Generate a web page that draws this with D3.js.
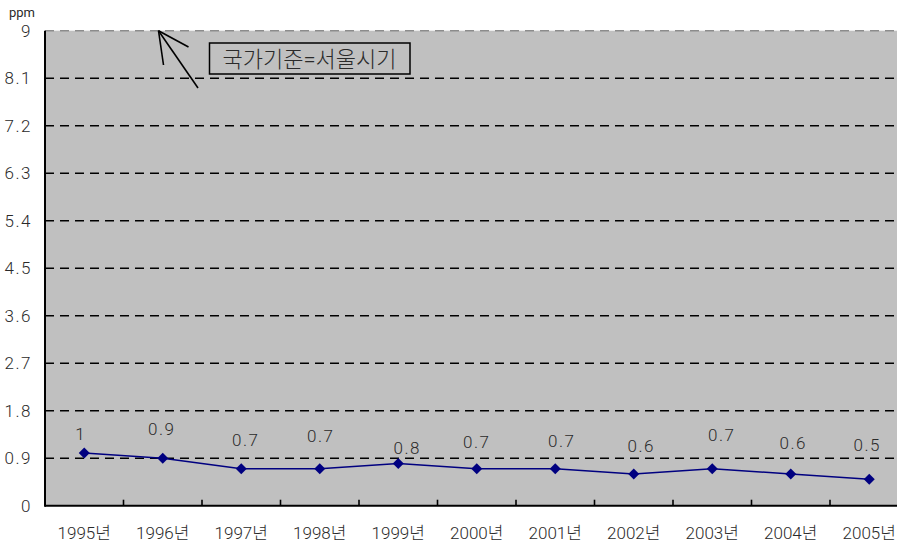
<!DOCTYPE html>
<html>
<head>
<meta charset="utf-8">
<script src="https://cdn.jsdelivr.net/npm/d3@7/dist/d3.min.js"></script>
<style>
  html, body { margin: 0; padding: 0; background: #fff; }
  svg { display: block; }
  text { font-family: Roboto, "Noto Sans CJK KR", sans-serif; fill: #2a2a2a; }
</style>
</head>
<body>
<svg id="chart" width="897" height="542"></svg>
<script>
// Annual concentration (ppm), 1995–2005
const years = ["1995", "1996", "1997", "1998", "1999", "2000", "2001", "2002", "2003", "2004", "2005"];
const values = [1, 0.9, 0.7, 0.7, 0.8, 0.7, 0.7, 0.6, 0.7, 0.6, 0.5];
const yTicks = [0, 0.9, 1.8, 2.7, 3.6, 4.5, 5.4, 6.3, 7.2, 8.1, 9];
const yearSuffix = "년";
const unitLabel = "ppm";
const noteText = "국가기준=서울시기";

// Hand-placed nudges for value labels (px, relative to each marker)
const labelNudge = [[-3.5, -19], [-1, -29], [4.5, -29], [1, -32.5], [9, -15.5], [0, -27],
                    [6.5, -27.5], [7.5, -27.5], [9.5, -34], [2.5, -31], [-2, -34]];

const svg = d3.select("#chart");
const plotLeft = 45, plotTop = 30.7, plotBottom = 505.7, band = 78.5;

const x = d3.scaleBand().domain(years).range([plotLeft, plotLeft + band * years.length]);
const y = d3.scaleLinear().domain([0, 9]).range([plotBottom, plotTop]);

// plot background
svg.append("rect")
  .attr("x", plotLeft).attr("y", plotTop)
  .attr("width", x.range()[1] - plotLeft).attr("height", plotBottom - plotTop)
  .attr("fill", "#c0c0c0");

// gridlines
svg.append("g").selectAll("line")
  .data(yTicks.filter(d => d > 0))
  .join("line")
  .attr("x1", plotLeft).attr("x2", x.range()[1])
  .attr("y1", d => y(d)).attr("y2", d => y(d))
  .attr("stroke", d => d === 9 ? "#8c8c8c" : "#000")
  .attr("stroke-width", 1.6)
  .attr("stroke-dasharray", "9,6");

// y axis
const yAxis = d3.axisLeft(y).tickValues(yTicks).tickSize(0).tickPadding(13)
  .tickFormat(d => d3.format("~g")(d));
const gy = svg.append("g").attr("transform", `translate(${plotLeft},0)`).call(yAxis);
gy.select(".domain").remove();
gy.selectAll("text")
  .attr("font-size", 17).attr("letter-spacing", 1.5).attr("font-weight", 300)
  .attr("font-family", "Roboto, sans-serif").attr("fill", "#2a2a2a");

// x axis with inward ticks at category boundaries
const gx = svg.append("g").attr("transform", `translate(0,${plotBottom})`);
gx.selectAll("line.tk")
  .data(years.slice(1))
  .join("line").attr("class", "tk")
  .attr("x1", d => x(d)).attr("x2", d => x(d))
  .attr("y1", 0).attr("y2", -6)
  .attr("stroke", "#000").attr("stroke-width", 1.6);
gx.selectAll("text")
  .data(years)
  .join("text")
  .attr("x", d => x(d) + x.bandwidth() / 2)
  .attr("y", 33)
  .attr("text-anchor", "middle")
  .attr("font-size", 17)
  .attr("font-weight", 300)
  .text(d => d + yearSuffix);

// axis lines
svg.append("line").attr("x1", plotLeft).attr("x2", plotLeft).attr("y1", plotTop).attr("y2", plotBottom + 1)
  .attr("stroke", "#000").attr("stroke-width", 2);
svg.append("line").attr("x1", plotLeft).attr("x2", x.range()[1]).attr("y1", plotBottom).attr("y2", plotBottom)
  .attr("stroke", "#000").attr("stroke-width", 2);

// unit label
svg.append("text").attr("x", 22).attr("y", 16.5).attr("text-anchor", "middle")
  .attr("font-size", 13).attr("font-family", "\"DejaVu Sans Mono\", monospace").text(unitLabel);

// series line
const cx = (d, i) => x(years[i]) + x.bandwidth() / 2;
svg.append("path")
  .datum(values)
  .attr("fill", "none")
  .attr("stroke", "#000080")
  .attr("stroke-width", 1.5)
  .attr("d", d3.line().x(cx).y(d => y(d)));

// diamond markers
svg.append("g").selectAll("path")
  .data(values)
  .join("path")
  .attr("transform", (d, i) => `translate(${cx(d, i)},${y(d)})`)
  .attr("d", "M0,-5.5L5.5,0L0,5.5L-5.5,0Z")
  .attr("fill", "#000080");

// value labels
svg.append("g").selectAll("text")
  .data(values)
  .join("text")
  .attr("x", (d, i) => cx(d, i) + labelNudge[i][0])
  .attr("y", (d, i) => y(d) + labelNudge[i][1])
  .attr("dy", "0.35em")
  .attr("text-anchor", "middle")
  .attr("font-size", 17)
  .attr("font-weight", 300)
  .attr("letter-spacing", 1.5)
  .text(d => d3.format("~g")(d));

// annotation arrow pointing at the 9 ppm line
const arrow = svg.append("g").attr("stroke", "#000").attr("stroke-width", 1.6).attr("fill", "none");
arrow.append("line").attr("x1", 198).attr("y1", 88).attr("x2", 158.5).attr("y2", y(9));
arrow.append("line").attr("x1", 158.5).attr("y1", y(9)).attr("x2", 163.5).attr("y2", 65);
arrow.append("line").attr("x1", 158.5).attr("y1", y(9)).attr("x2", 188.5).attr("y2", 47);

// annotation box
svg.append("rect").attr("x", 209.5).attr("y", 43).attr("width", 200.5).attr("height", 31)
  .attr("fill", "none").attr("stroke", "#000").attr("stroke-width", 1.5);
svg.append("text").attr("x", 309.5).attr("y", 59).attr("dy", "0.35em")
  .attr("text-anchor", "middle").attr("font-size", 22)
  .attr("font-family", "\"Noto Sans CJK KR\", sans-serif").attr("font-weight", 300)
  .text(noteText);
</script>
</body>
</html>
